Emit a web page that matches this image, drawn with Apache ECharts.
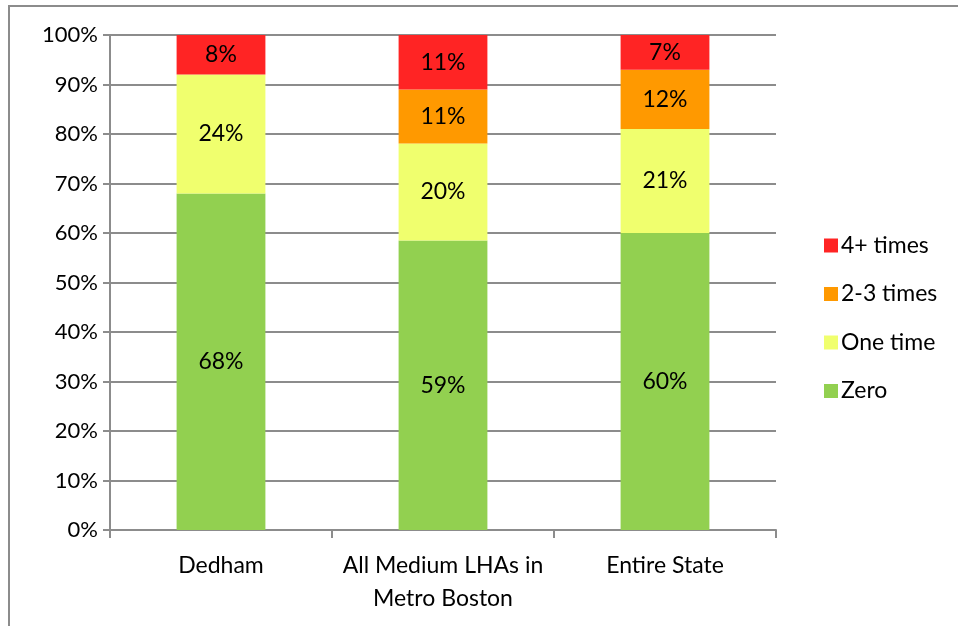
<!DOCTYPE html>
<html>
<head>
<meta charset="utf-8">
<script src="https://cdn.jsdelivr.net/npm/echarts@6/dist/echarts.min.js"></script>
<style>
  html, body { margin: 0; padding: 0; background: #fff; }
  #frame { position: absolute; left: 8px; top: 5px; width: 980px; height: 660px; border: 2px solid #8c8c8c; box-sizing: border-box; }
  #chart { position: absolute; left: 0; top: 0; width: 958px; height: 626px; }
</style>
</head>
<body>
<div id="frame"></div>
<div id="chart"></div>
<script>
const categories = ['Dedham', 'All Medium LHAs in\nMetro Boston', 'Entire State'];
const seriesNames = ['Zero', 'One time', '2-3 times', '4+ times'];
const zeroValues = [68, 58.5, 60];
const oneValues = [24, 19.6, 21];
const twoThreeValues = [0, 10.9, 12];
const fourPlusValues = [8, 11, 7];
const yTicks = [0, 10, 20, 30, 40, 50, 60, 70, 80, 90, 100];

const colors = ['#92d050', '#f0ff6e', '#ff9900', '#ff2424'];
const font = 'Lato, "Open Sans", sans-serif';

const chart = echarts.init(document.getElementById('chart'));

function makeSeries(name, values, color) {
  return {
    name: name,
    type: 'bar',
    stack: 'total',
    barWidth: '40%',
    data: values,
    itemStyle: { color: color },
    label: {
      show: true,
      position: 'inside',
      color: '#000',
      fontFamily: font,
      fontSize: 23,
      formatter: p => (p.value > 0 ? Math.round(p.value) + '%' : '')
    }
  };
}

chart.setOption({
  animation: false,
  grid: { left: 110, right: 182, top: 35, bottom: 96, containLabel: false },
  legend: {
    orient: 'vertical',
    left: 819,
    top: 229,
    itemWidth: 14,
    itemHeight: 14,
    itemGap: 25.5,
    icon: 'rect',
    data: ['4+ times', '2-3 times', 'One time', 'Zero'],
    textStyle: { fontFamily: font, fontSize: 23, color: '#000', padding: [0, 0, 0, -2] }
  },
  xAxis: {
    type: 'category',
    data: categories,
    axisLine: { lineStyle: { color: '#8c8c8c', width: 2 } },
    axisTick: { show: true, length: 8, lineStyle: { color: '#8c8c8c', width: 2 } },
    axisLabel: { interval: 0, color: '#000', fontFamily: font, fontSize: 23, margin: 19, lineHeight: 33 }
  },
  yAxis: {
    type: 'value',
    min: 0,
    max: 100,
    interval: 10,
    axisLine: { show: true, lineStyle: { color: '#8c8c8c', width: 2 } },
    axisTick: { show: true, length: 7, lineStyle: { color: '#8c8c8c', width: 2 } },
    splitLine: { lineStyle: { color: '#8c8c8c', width: 2 } },
    axisLabel: {
      color: '#000',
      fontFamily: font,
      fontSize: 22,
      margin: 12,
      formatter: v => (yTicks.includes(v) ? v + '%' : '')
    }
  },
  series: [
    makeSeries(seriesNames[0], zeroValues, colors[0]),
    makeSeries(seriesNames[1], oneValues, colors[1]),
    makeSeries(seriesNames[2], twoThreeValues, colors[2]),
    makeSeries(seriesNames[3], fourPlusValues, colors[3])
  ]
});
</script>
</body>
</html>
